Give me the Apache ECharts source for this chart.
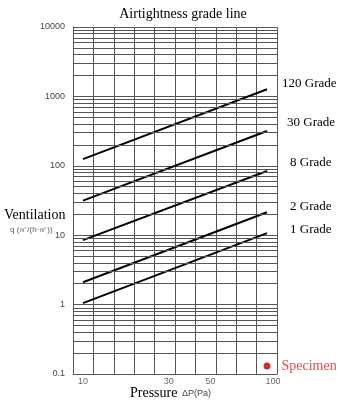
<!DOCTYPE html>
<html>
<head>
<meta charset="utf-8">
<script src="https://cdn.jsdelivr.net/npm/echarts@6/dist/echarts.min.js"></script>
<style>
html, body { margin: 0; padding: 0; background: #fff; }
#chart { width: 340px; height: 402px; }
</style>
</head>
<body>
<div id="chart"></div>
<script>
// grade lines: ventilation at 10 Pa and at 100 Pa
const gradeNames = ['1 Grade', '2 Grade', '8 Grade', '30 Grade', '120 Grade'];
const pressures = [10, 100];
const grade1 = [1.05, 10.7];
const grade2 = [2.1, 21.4];
const grade8 = [8.5, 84];
const grade30 = [31.5, 317];
const grade120 = [125, 1270];
const specimen = [100, 0.13];
const xTickLabels = [10, 30, 50, 100];
const yTickLabels = [0.1, 1, 10, 100, 1000, 10000];

const gradeValues = [grade1, grade2, grade8, grade30, grade120];
// label offsets (style only)
const gradeLabelOffset = [[23, -4], [23, -6], [23, -8], [20, -8], [15, -6]];
const xLabelShift = [0, -2, -1, 6];

const gridColor = '#555';
const serif = '"Liberation Serif", "Times New Roman", serif';
const sans = '"Liberation Sans", Arial, sans-serif';

// minor horizontal grid lines 2..9 in each decade
const minorLines = [];
for (let k = -1; k <= 3; k++) {
  for (let m = 2; m <= 9; m++) {
    minorLines.push({ yAxis: m * Math.pow(10, k) });
  }
}

const chart = echarts.init(document.getElementById('chart'));

const gradeSeries = gradeNames.map((name, i) => ({
  name: name,
  type: 'line',
  xAxisIndex: 0,
  yAxisIndex: 0,
  symbol: 'none',
  silent: true,
  lineStyle: { color: '#000', width: 2 },
  data: pressures.map((p, j) => [p, gradeValues[i][j]]),
  endLabel: {
    show: true,
    formatter: '{a}',
    distance: 0,
    offset: gradeLabelOffset[i],
    color: '#000',
    fontFamily: serif,
    fontSize: 13
  },
  markLine: i === 0 ? {
    silent: true,
    symbol: ['none', 'none'],
    label: { show: false },
    lineStyle: { color: gridColor, width: 1, type: 'solid' },
    data: minorLines
  } : undefined
}));

const option = {
  animation: false,
  title: {
    text: 'Airtightness grade line',
    left: 178,
    textAlign: 'center',
    top: 2,
    textStyle: { fontFamily: serif, fontSize: 14, fontWeight: 'normal', color: '#000' }
  },
  grid: { left: 73, right: 63, top: 27, bottom: 28 },
  xAxis: [
    {
      type: 'log',
      min: 8.826,
      max: 113.3,
      show: false
    },
    {
      type: 'value',
      min: 0,
      max: 10,
      interval: 1,
      position: 'bottom',
      axisLine: { show: true, lineStyle: { color: gridColor } },
      axisTick: { show: false },
      axisLabel: { show: false },
      splitLine: { show: true, lineStyle: { color: gridColor, width: 1 } }
    }
  ],
  yAxis: {
    type: 'log',
    logBase: 10,
    min: yTickLabels[0],
    max: yTickLabels[yTickLabels.length - 1],
    splitNumber: 5,
    axisLine: { show: true, lineStyle: { color: gridColor } },
    axisTick: { show: false },
    axisLabel: {
      color: '#444',
      fontSize: 9,
      fontFamily: sans,
      margin: 8,
      formatter: v => String(+v.toFixed(1))
    },
    splitLine: { show: true, lineStyle: { color: gridColor, width: 1 } }
  },
  graphic: [
    { type: 'text', x: 4, y: 215, style: { text: 'Ventilation', font: '14px ' + serif, fill: '#000', verticalAlign: 'middle' } },
    { type: 'text', x: 10, y: 230, style: { text: 'q (㎥/(h·㎡))', font: '8px ' + sans, fill: '#555', verticalAlign: 'middle' } },
    { type: 'text', x: 130, y: 393, style: { text: 'Pressure', font: '14px ' + serif, fill: '#000', verticalAlign: 'middle' } },
    { type: 'text', x: 182, y: 394, style: { text: 'ΔP(Pa)', font: '9px ' + sans, fill: '#444', verticalAlign: 'middle' } }
  ],
  series: gradeSeries.concat([
    {
      name: 'Specimen',
      type: 'scatter',
      xAxisIndex: 0,
      yAxisIndex: 0,
      symbolSize: 7,
      silent: true,
      itemStyle: { color: '#b00000' },
      label: {
        show: true,
        position: 'right',
        distance: 11,
        formatter: 'Specimen',
        color: '#d42020',
        fontFamily: serif,
        fontSize: 14
      },
      data: [specimen]
    },
    {
      // x tick labels placed through the log scale
      type: 'scatter',
      xAxisIndex: 0,
      yAxisIndex: 0,
      symbolSize: 1,
      silent: true,
      clip: false,
      itemStyle: { color: 'rgba(0,0,0,0)' },
      data: xTickLabels.map((v, i) => ({
        value: [v, yTickLabels[0]],
        label: { offset: [xLabelShift[i], 0] }
      })),
      label: {
        show: true,
        position: 'bottom',
        distance: 3,
        color: '#444',
        fontSize: 9,
        fontFamily: sans,
        formatter: p => String(p.value[0])
      }
    }
  ])
};

chart.setOption(option);
</script>
</body>
</html>
